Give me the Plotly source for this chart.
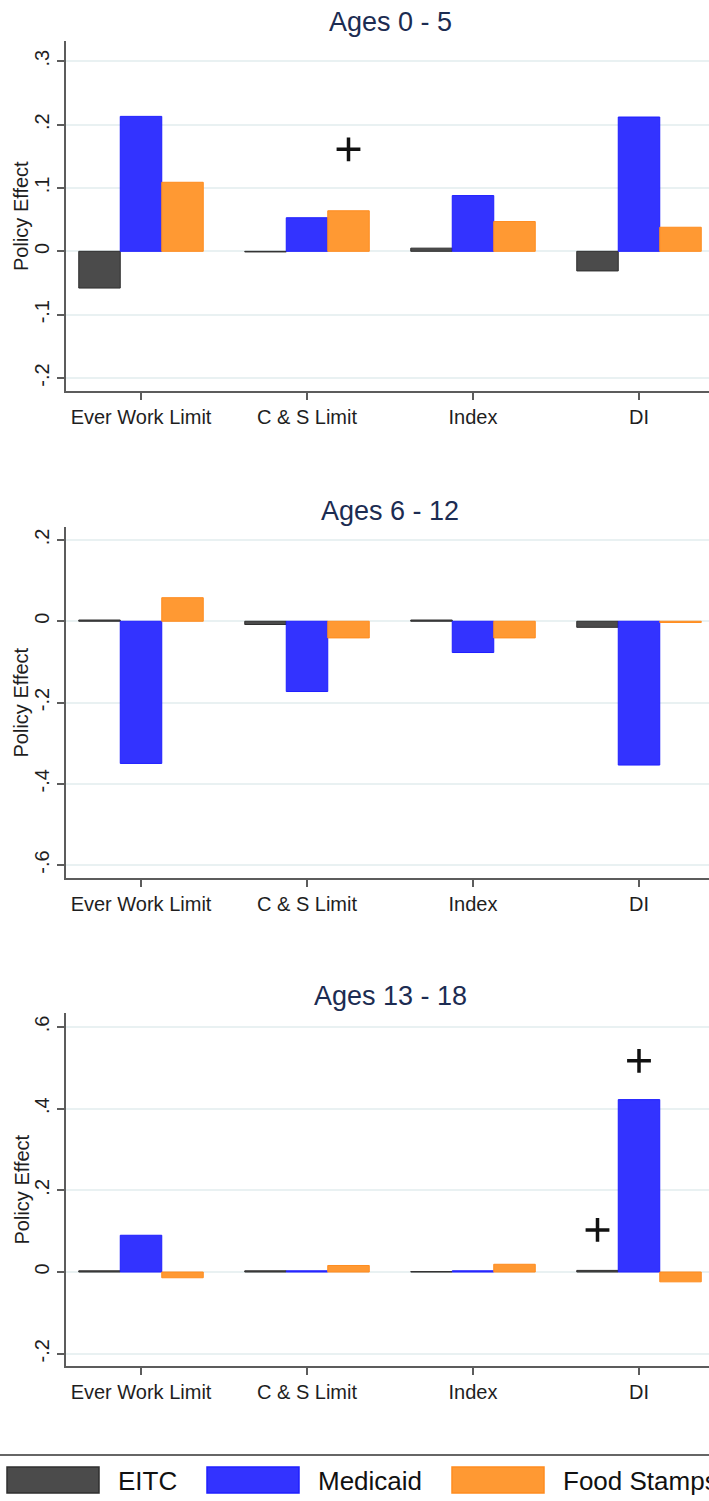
import plotly.graph_objects as go

# --- data -------------------------------------------------------------
categories = ["Ever Work Limit", "C & S Limit", "Index", "DI"]
series_names = ["EITC", "Medicaid", "Food Stamps"]
panel_titles = ["Ages 0 - 5", "Ages 6 - 12", "Ages 13 - 18"]

# policy effects per panel: one list per series, ordered as `categories`
ages_0_5_eitc = [-0.058, -0.001, 0.005, -0.031]
ages_0_5_medicaid = [0.213, 0.053, 0.088, 0.212]
ages_0_5_food = [0.109, 0.064, 0.047, 0.038]

ages_6_12_eitc = [0.003, -0.008, 0.003, -0.015]
ages_6_12_medicaid = [-0.350, -0.173, -0.077, -0.354]
ages_6_12_food = [0.058, -0.041, -0.041, -0.003]

ages_13_18_eitc = [0.003, 0.003, 0.001, 0.004]
ages_13_18_medicaid = [0.090, 0.003, 0.003, 0.422]
ages_13_18_food = [-0.014, 0.016, 0.019, -0.024]

# significance markers: (panel index, category index, series index, y)
sig_panel = [0, 2, 2]
sig_category = [1, 3, 3]
sig_series = [2, 1, 0]
sig_y = [0.161, 0.517, 0.103]

# y-axis ticks per panel
yticks_0_5 = [-0.2, -0.1, 0, 0.1, 0.2, 0.3]
yticklabels_0_5 = ["-.2", "-.1", "0", ".1", ".2", ".3"]
yticks_6_12 = [-0.6, -0.4, -0.2, 0, 0.2]
yticklabels_6_12 = ["-.6", "-.4", "-.2", "0", ".2"]
yticks_13_18 = [-0.2, 0, 0.2, 0.4, 0.6]
yticklabels_13_18 = ["-.2", "0", ".2", ".4", ".6"]

# --- styling ------------------------------------------------------------
W, H = 709, 1501
FONT = "Liberation Sans, Arial, Helvetica, sans-serif"
fills = ["#4b4b4b", "#3333ff", "#ff9933"]
edges = ["#2f2f2f", "#1f1fff", "#ff8c1f"]
axis_col = "#5c5c5c"
grid_col = "#e9f1f2"
title_col = "#1c2c52"
text_col = "#1e1e1e"


def py(px):
    """pixel row (from the top) -> paper y"""
    return 1 - px / H


def pxx(px):
    return px / W


panels = [
    dict(values=[ages_0_5_eitc, ages_0_5_medicaid, ages_0_5_food],
         ticks=yticks_0_5, labels=yticklabels_0_5,
         top=41, bottom=391, yrange=[-0.2205, 0.332], title_y=22),
    dict(values=[ages_6_12_eitc, ages_6_12_medicaid, ages_6_12_food],
         ticks=yticks_6_12, labels=yticklabels_6_12,
         top=527, bottom=878, yrange=[-0.632, 0.232], title_y=511),
    dict(values=[ages_13_18_eitc, ages_13_18_medicaid, ages_13_18_food],
         ticks=yticks_13_18, labels=yticklabels_13_18,
         top=1013, bottom=1366, yrange=[-0.230, 0.634], title_y=996),
]

x_idx = list(range(len(categories)))
bar_step = 0.25           # width of one bar in category units
plot_left = 66
x_range = [-75 / 166, -75 / 166 + (W - plot_left) / 166]

fig = go.Figure()
annotations = []
shapes = []

for p, panel in enumerate(panels):
    ax = "" if p == 0 else str(p + 1)
    for s, name in enumerate(series_names):
        fig.add_trace(go.Bar(
            x=x_idx, y=panel["values"][s], name=name,
            xaxis="x" + ax, yaxis="y" + ax, offsetgroup=str(s),
            marker=dict(color=fills[s], line=dict(color=edges[s], width=1)),
            showlegend=False,
        ))
    # significance markers in this panel
    mx = [sig_category[i] + (sig_series[i] - 1) * bar_step
          for i in range(len(sig_y)) if sig_panel[i] == p]
    my = [sig_y[i] for i in range(len(sig_y)) if sig_panel[i] == p]
    if mx:
        fig.add_trace(go.Scatter(
            x=mx, y=my, mode="markers", xaxis="x" + ax, yaxis="y" + ax,
            marker=dict(symbol="cross-thin", size=17,
                        line=dict(color="#111111", width=3.5)),
            showlegend=False, hoverinfo="skip",
        ))

    xdom = [pxx(plot_left), 1]
    ydom = [py(panel["bottom"]), py(panel["top"])]
    fig.layout["xaxis" + ax] = dict(
        domain=xdom, anchor="y" + ax, range=x_range,
        tickmode="array", tickvals=x_idx, ticktext=categories,
        showline=True, linecolor=axis_col, linewidth=2,
        ticks="outside", ticklen=7, tickwidth=1.5, tickcolor=axis_col,
        showgrid=False, zeroline=False,
        tickfont=dict(family=FONT, size=20, color=text_col),
    )
    fig.layout["yaxis" + ax] = dict(
        domain=ydom, anchor="x" + ax, range=panel["yrange"],
        tickmode="array", tickvals=panel["ticks"], ticktext=panel["labels"],
        tickangle=-90,
        showline=True, linecolor=axis_col, linewidth=2,
        ticks="outside", ticklen=7, tickwidth=1.5, tickcolor=axis_col,
        showgrid=True, gridcolor=grid_col, gridwidth=1.5, zeroline=False,
        tickfont=dict(family=FONT, size=20, color=text_col),
    )
    # panel title
    annotations.append(dict(
        text=panel_titles[p], xref="paper", yref="paper",
        x=pxx(390), y=py(panel["title_y"]), xanchor="center", yanchor="middle",
        showarrow=False, font=dict(family=FONT, size=27, color=title_col),
    ))
    # y-axis title
    annotations.append(dict(
        text="Policy Effect", xref="paper", yref="paper",
        x=pxx(21), y=py((panel["top"] + panel["bottom"]) / 2),
        xanchor="center", yanchor="middle", textangle=-90,
        showarrow=False, font=dict(family=FONT, size=20, color=text_col),
    ))

# --- legend ---------------------------------------------------------------
shapes.append(dict(type="line", xref="paper", yref="paper",
                   x0=0, x1=1, y0=py(1455), y1=py(1455),
                   line=dict(color="#666666", width=2)))
legend_box_left = [7, 207, 452]
box_w, box_top, box_bot = 92, 1467, 1493
for s, name in enumerate(series_names):
    x0 = legend_box_left[s]
    shapes.append(dict(type="rect", xref="paper", yref="paper",
                       x0=pxx(x0), x1=pxx(x0 + box_w),
                       y0=py(box_bot), y1=py(box_top),
                       fillcolor=fills[s], line=dict(color=edges[s], width=1.5)))
    annotations.append(dict(
        text=name, xref="paper", yref="paper",
        x=pxx(x0 + box_w + 17), y=py(1481), xanchor="left", yanchor="middle",
        showarrow=False, font=dict(family=FONT, size=26, color="#111111"),
    ))

fig.update_layout(
    width=W, height=H,
    margin=dict(l=0, r=0, t=0, b=0),
    paper_bgcolor="white", plot_bgcolor="white",
    barmode="group", bargap=0.25, bargroupgap=0,
    annotations=annotations, shapes=shapes,
    showlegend=False,
)

fig.write_html("out.html")
